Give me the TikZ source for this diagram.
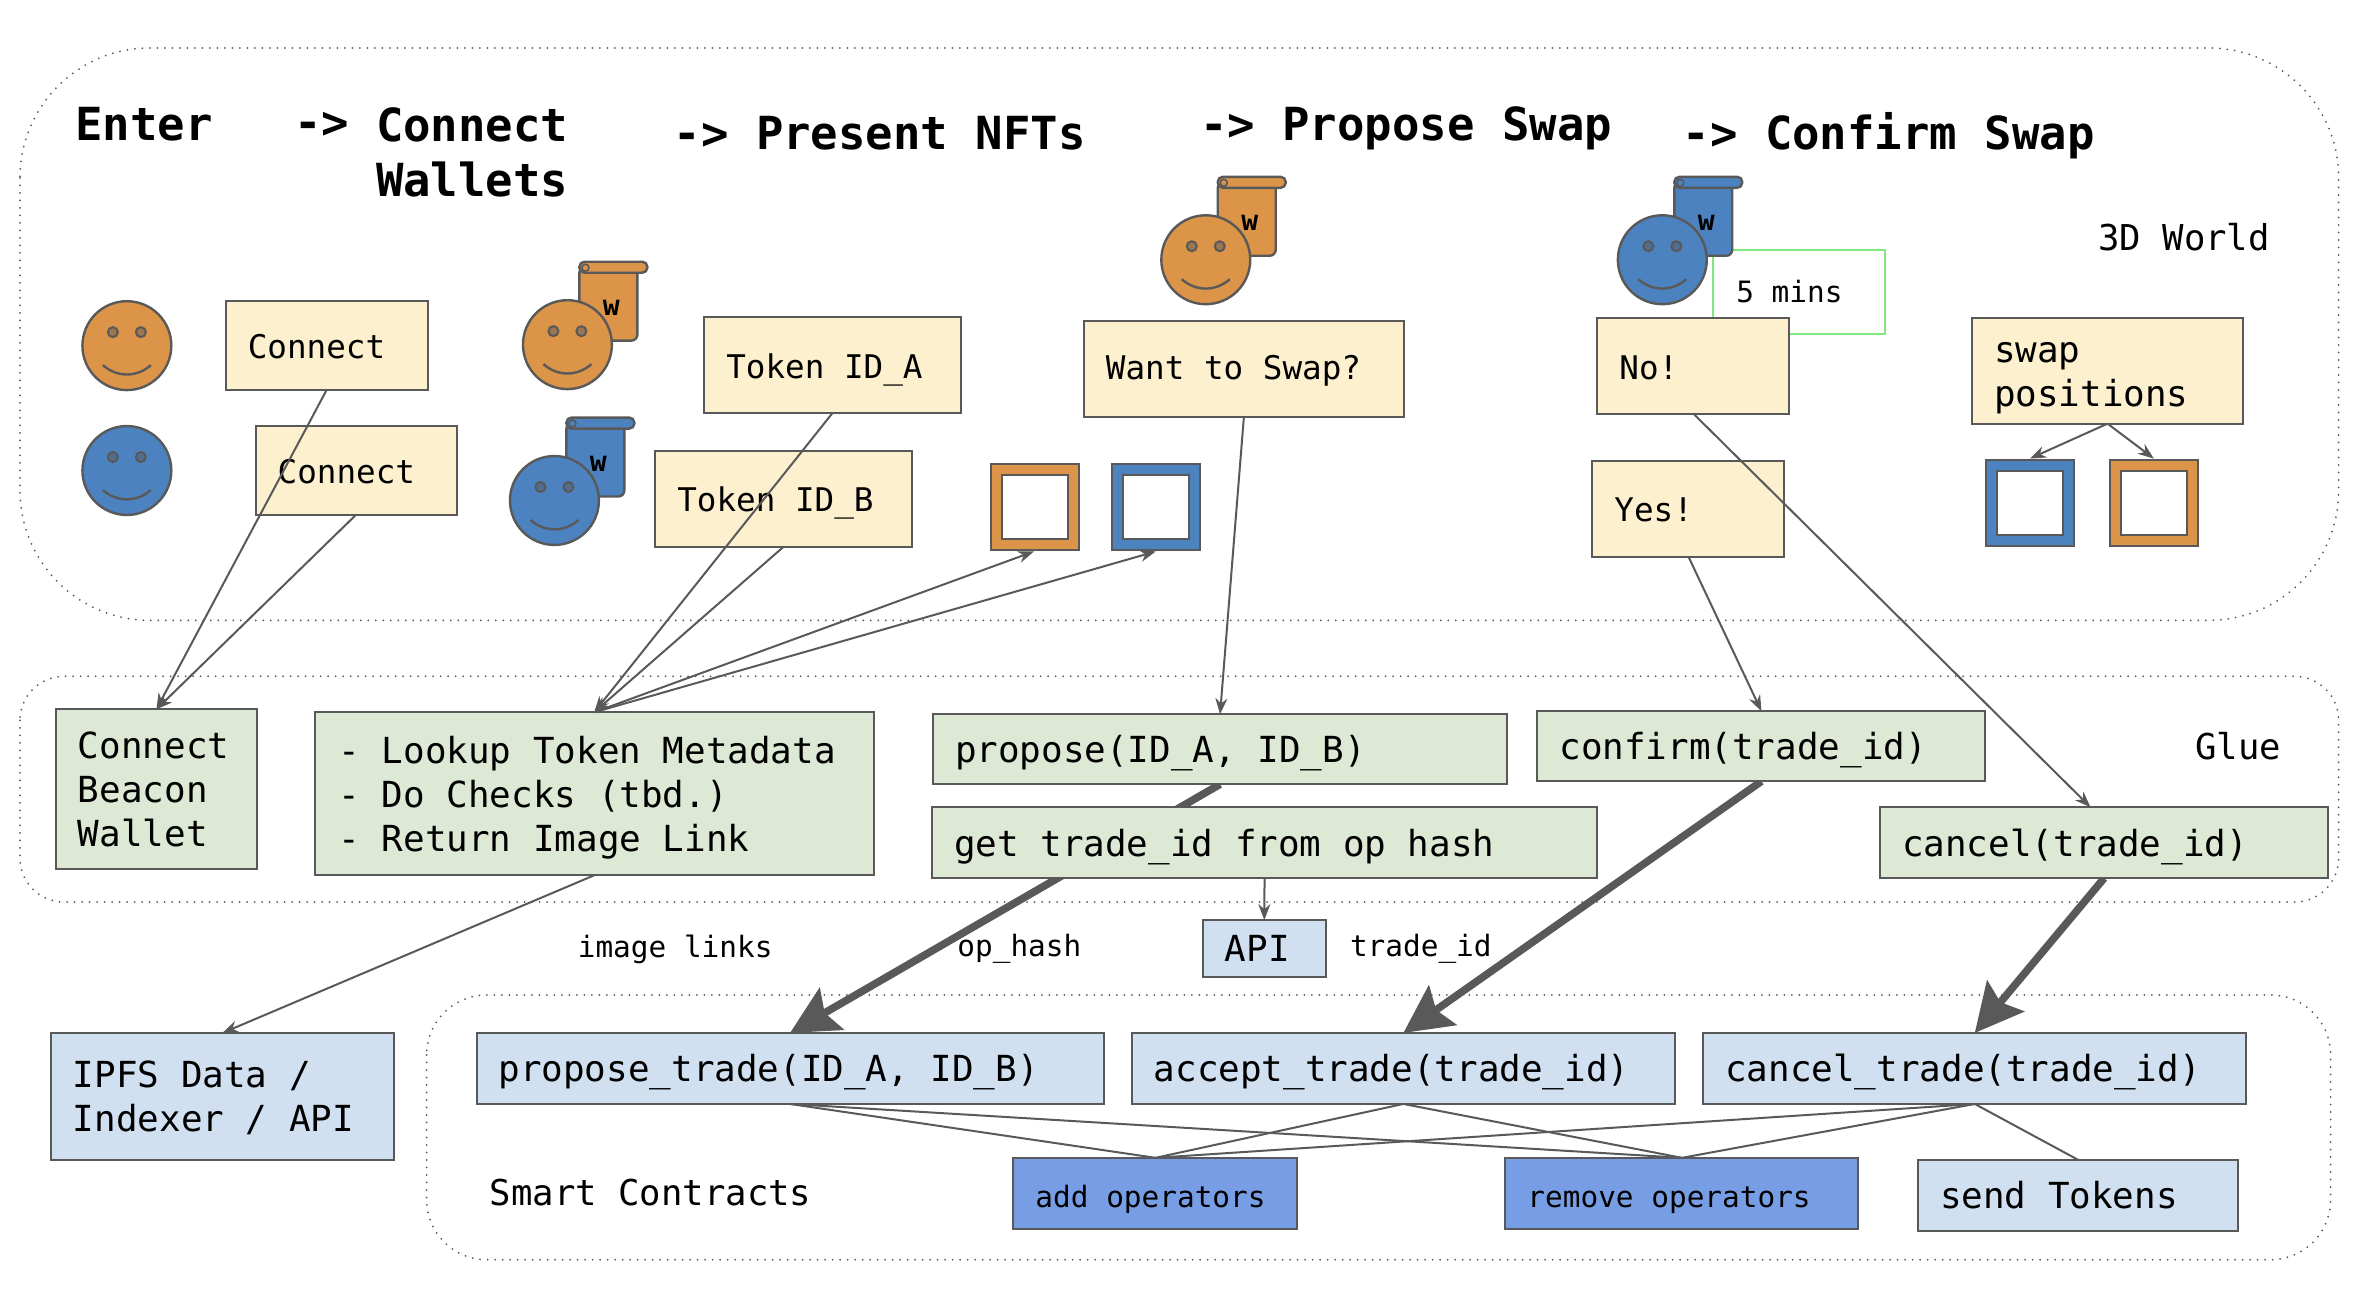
\documentclass[tikz,border=0pt]{standalone}
\usepackage{fontspec}
\setmonofont{DejaVu Sans Mono}
\usetikzlibrary{arrows.meta,backgrounds}
\definecolor{lineg}{HTML}{595959}
\definecolor{orangef}{HTML}{DB9448}
\definecolor{bluef}{HTML}{4C82C0}
\definecolor{creamf}{HTML}{FCF0CF}
\definecolor{greenf}{HTML}{DDE8D5}
\definecolor{paleb}{HTML}{D1E0F0}
\definecolor{midb}{HTML}{779EE5}
\definecolor{limeb}{HTML}{7FE87F}
\newcommand{\fs}[2]{\ttfamily\fontsize{#1}{#2}\selectfont}
\tikzset{
	wh/.style 2 args = {
		anchor=north west, inner ysep=0pt, inner xsep=11pt, outer sep=0pt, align=flush left,
		text width={(#1)*0.5pt-22pt}, minimum height=#2*0.5pt,
		execute at begin node={\rule{0pt}{20pt}}, execute at end node=\strut},
	box/.style = {draw=lineg, line width=1pt, text=black, font=\fs{16.3}{22}},
	big/.style = {font=\fs{17.95}{22}},
	small/.style = {font=\fs{14.7}{20}},
	zone/.style = {draw=lineg, line width=1pt, line cap=round, dash pattern=on 0pt off 3.75pt},
	label/.style = {anchor=west, inner sep=0pt, text=black, font=\fs{17.8}{22}},
	title/.style = {anchor=base west, inner sep=0pt, text=black, align=left, font=\fs{22.8}{27.8}\bfseries},
	conn/.style = {draw=lineg, line width=1pt, -{Stealth[length=8pt,width=6pt]}},
	plain/.style = {draw=lineg, line width=1pt},
	thick arrow/.style = {draw=lineg, line width=3.8pt, -{Stealth[length=24pt,width=24pt,inset=4pt]}},
	face/.pic = {
		\draw[lineg, line width=1.2pt, fill=#1] (0,0) circle (44.5);
		\draw[lineg, line width=1pt, fill=lineg!50!#1] (-14,-13.5) circle (5) (14,-13.5) circle (5);
		\draw[lineg, line width=1.2pt] (-24,19.5) .. controls (-10,32) and (10,32) .. (24,19.5);
	},
	wallet/.pic = {
		\draw[lineg, line width=1.2pt, fill=#1, rounded corners=3pt] (12,-78) -- (70,-78) -- (70,-4) -- (12,-4) -- cycle;
		\draw[lineg, line width=1.2pt, fill=#1, rounded corners=2.5pt] (12,-83) rectangle (80,-72);
		\draw[lineg, line width=.8pt] (18,-77) circle (3.5);
		\node[inner sep=0pt, font=\fs{14}{16}\bfseries] (-w) at (44,-37) {w};
		\pic {face=#1};
	},
	frame/.pic = {
		\draw[lineg, line width=1pt, fill=#1] (1,1) rectangle (89,88);
		\draw[lineg, line width=1pt, fill=white] (12,12) rectangle (78,77);
	},
}
\begin{document}
\begin{tikzpicture}[x=0.4995pt, y=-0.4995pt]
	\useasboundingbox (0,0) rectangle (2358.4,1311.3);
	% zones
	\draw[zone, rounded corners=65pt] (20,48) rectangle (2341,621);
	\draw[zone, rounded corners=22pt] (20,677) rectangle (2341,903);
	\draw[zone, rounded corners=30pt] (427,996) rectangle (2333,1261);
	% headings
	\node[title] (enter) at (75,141) {Enter};
	\node[title] (arrowa) at (294,139) {->};
	\node[title] (wallets) at (376,197) {Connect\\Wallets};
	\node[title] (nfts) at (674,150) {-> Present NFTs};
	\node[title] (propose) at (1201,141) {-> Propose Swap};
	\node[title] (confirm) at (1684,150) {-> Confirm Swap};
	\node[label] (world) at (2100,237) {3D World};
	\node[label] (glue) at (2197,747) {Glue};
	\node[label] (smart) at (490,1194) {Smart Contracts};
	\node[label, small] (links) at (578,950) {image links};
	\node[label, small] (ophash) at (958,950) {op\_hash};
	\node[label, small] (tradeid) at (1351,950) {trade\_id};
	% people
	\pic at (127,346) {face=orangef};
	\pic at (127,471) {face=bluef};
	\pic (wa) at (568,345) {wallet=orangef};
	\pic (wb) at (555,501) {wallet=bluef};
	\pic (wc) at (1207,260) {wallet=orangef};
	\node[wh={172}{84}, draw=limeb, line width=1pt, fill=white, font=\fs{14.7}{20}, inner xsep=11.5pt, text width=63pt] (mins) at (1715,250) {\raisebox{1.5pt}{5 mins}};
	\pic (wd) at (1664,260) {wallet=bluef};
	% frames
	\pic at (991,463) {frame=orangef};
	\pic at (1112,463) {frame=bluef};
	\pic at (1987,459) {frame=bluef};
	\pic at (2111,459) {frame=orangef};
	\coordinate (fa) at (1035,552);
	\coordinate (fb) at (1157,552);
	\coordinate (fc) at (2032,459);
	\coordinate (fd) at (2156,459);
	% cream boxes
	\tikzset{every node/.append style={box}}
	\node[wh={202}{89}, fill=creamf] (connecta) at (226,301) {Connect};
	\node[wh={201}{89}, fill=creamf] (connectb) at (256,426) {Connect};
	\node[wh={257}{96}, fill=creamf] (tokena) at (705,317) {Token ID\_A};
	\node[wh={257}{96}, fill=creamf] (tokenb) at (656,451) {Token ID\_B};
	\node[wh={320}{96}, fill=creamf] (want) at (1085,321) {\raisebox{1.5pt}{Want to Swap?}};
	\node[wh={192}{96}, fill=creamf] (no) at (1599,318) {No!};
	\node[wh={192}{96}, fill=creamf] (yes) at (1594,461) {Yes!};
	\node[wh={271}{106}, fill=creamf, big] (swap) at (1974,318) {swap\\positions};
	% glue boxes
	\node[wh={201}{160}, fill=greenf, big] (beacon) at (56,710) {Connect\\Beacon\\Wallet};
	\node[wh={555}{163}, fill=greenf, big, inner xsep=12pt] (lookup) at (315,713) {- Lookup Token Metadata\\- Do Checks (tbd.)\\- Return Image Link};
	\node[wh={574}{70}, fill=greenf, big] (gluepropose) at (934,715) {propose(ID\_A, ID\_B)};
	\node[wh={665}{71}, fill=greenf, big] (gettrade) at (933,808) {get trade\_id from op hash};
	\node[wh={448}{70}, fill=greenf, big] (glueconfirm) at (1539,712) {confirm(trade\_id)};
	\node[wh={448}{71}, fill=greenf, big] (gluecancel) at (1882,808) {cancel(trade\_id)};
	% contract boxes
	\node[wh={123}{57}, fill=paleb, big] (api) at (1204,921) {API};
	\node[wh={343}{127}, fill=paleb, big] (ipfs) at (51,1034) {IPFS Data /\\Indexer / API};
	\node[wh={627}{71}, fill=paleb, big] (ptrade) at (477,1034) {propose\_trade(ID\_A, ID\_B)};
	\node[wh={543}{71}, fill=paleb, big] (atrade) at (1133,1034) {accept\_trade(trade\_id)};
	\node[wh={543}{71}, fill=paleb, big] (ctrade) at (1705,1034) {cancel\_trade(trade\_id)};
	\node[wh={284}{71}, fill=midb, small] (addop) at (1014.5,1159) {add operators};
	\node[wh={353}{71}, fill=midb, small] (remop) at (1507,1159) {remove operators};
	\node[wh={320}{71}, fill=paleb, big] (send) at (1920,1161) {send Tokens};
	% connectors
	\draw[conn] (connecta.south) -- (beacon.north);
	\draw[conn] (connectb.south) -- (beacon.north);
	\draw[conn] (tokena.south) -- (lookup.north);
	\draw[conn] (tokenb.south) -- (lookup.north);
	\draw[conn] (lookup.north) -- (fa);
	\draw[conn] (lookup.north) -- (fb);
	\draw[conn] (want.south) -- (gluepropose.north);
	\draw[conn] (yes.south) -- (glueconfirm.north);
	\draw[conn] (no.south) -- ([xshift=-6.8pt]gluecancel.north);
	\draw[conn] (swap.south) -- (fc);
	\draw[conn] (swap.south) -- (fd);
	\draw[conn] (lookup.south) -- (ipfs.north);
	\draw[conn] (gettrade.south) -- (api.north);
	\draw[plain] (ptrade.south) -- (addop.north);
	\draw[plain] (ptrade.south) -- (remop.north);
	\draw[plain] (atrade.south) -- (addop.north);
	\draw[plain] (atrade.south) -- (remop.north);
	\draw[plain] (ctrade.south) -- (addop.north);
	\draw[plain] (ctrade.south) -- (remop.north);
	\draw[plain] (ctrade.south) -- (send.north);
	\begin{scope}[on background layer]
		\draw[thick arrow] (gluepropose.south) -- (ptrade.north);
		\draw[thick arrow] (glueconfirm.south) -- (atrade.north);
		\draw[thick arrow] (gluecancel.south) -- (ctrade.north);
	\end{scope}
\end{tikzpicture}
\end{document}
